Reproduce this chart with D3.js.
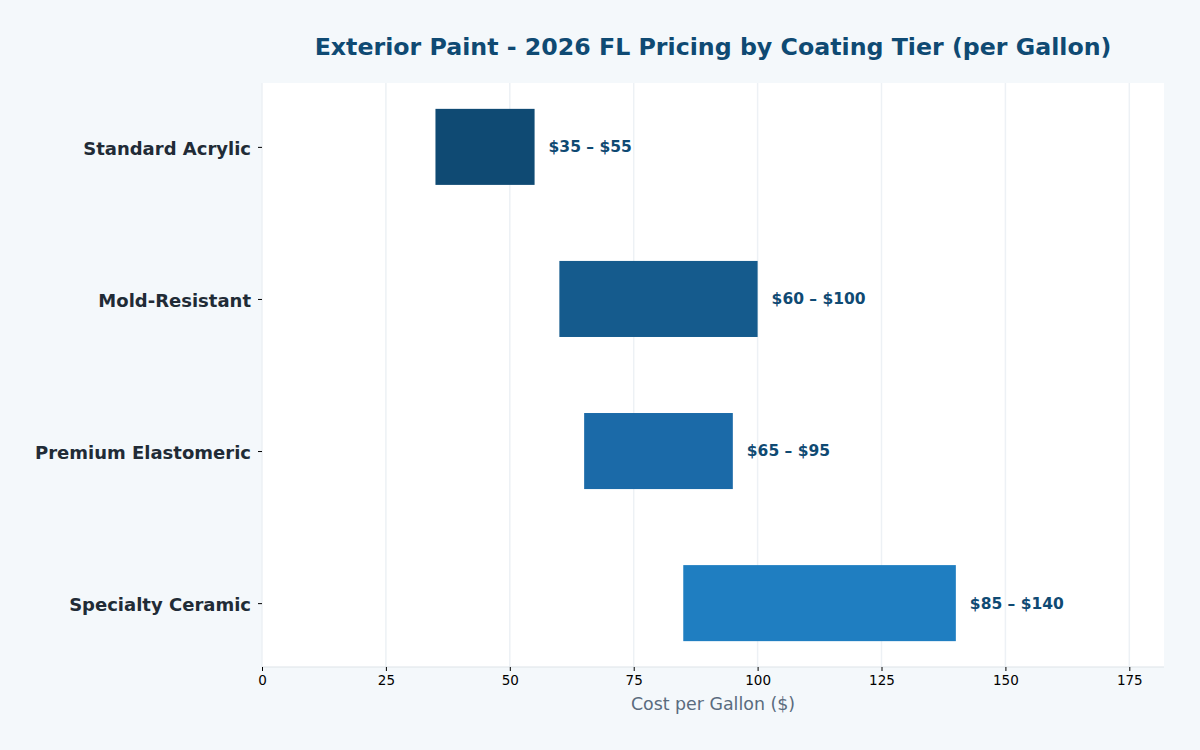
<!DOCTYPE html>
<html>
<head>
<meta charset="utf-8">
<script src="https://cdn.jsdelivr.net/npm/d3@7"></script>
<style>
  body { margin: 0; background: #f4f8fb; }
  #chart { width: 1200px; height: 750px; }
</style>
</head>
<body>
<div id="chart"></div>
<script>
// coating tiers and price ranges ($ per gallon)
const tiers = ["Standard Acrylic", "Mold-Resistant", "Premium Elastomeric", "Specialty Ceramic"];
const lowPrices = [35, 60, 65, 85];
const highPrices = [55, 100, 95, 140];
const barColors = ["#0f4a73", "#155b8d", "#1b6aa8", "#1f7ec1"];
const xTicks = [0, 25, 50, 75, 100, 125, 150, 175];

const W = 1200, H = 750;
const margin = {top: 83, right: 36, bottom: 83, left: 262};
const width = W - margin.left - margin.right;
const height = H - margin.top - margin.bottom;
const font = "'DejaVu Sans', sans-serif";

const svg = d3.select("#chart").append("svg")
    .attr("width", W)
    .attr("height", H)
    .style("font-family", font);

svg.append("rect").attr("width", W).attr("height", H).attr("fill", "#f4f8fb");

const g = svg.append("g").attr("transform", `translate(${margin.left},${margin.top})`);

g.append("rect").attr("width", width).attr("height", height).attr("fill", "#ffffff");

var x = d3.scaleLinear()
    .domain([0, d3.max(highPrices) * 1.3])
    .range([0, width]);

// index scale, padded like matplotlib's default ylim
var y = d3.scaleLinear()
    .domain([-0.42, tiers.length - 1 + 0.42])
    .range([0, height]);
const barH = y(0.5) - y(0);

// vertical grid
g.selectAll("line.grid")
    .data(xTicks)
    .enter().append("line")
    .attr("x1", d => x(d)).attr("x2", d => x(d))
    .attr("y1", 0).attr("y2", height)
    .attr("stroke", "#edf1f5")
    .attr("stroke-width", 1.5);

// bottom spine
g.append("line")
    .attr("x1", 0).attr("x2", width)
    .attr("y1", height).attr("y2", height)
    .attr("stroke", "#dde3e8");

// x axis
const xAxis = g.append("g")
    .attr("transform", `translate(0,${height})`)
    .call(d3.axisBottom(x).tickValues(xTicks).tickSize(4).tickPadding(4).tickFormat(d3.format("d")));
xAxis.select(".domain").remove();
xAxis.selectAll("text").attr("font-size", 13.5).attr("fill", "#000").style("font-family", font);
xAxis.selectAll("line").attr("stroke", "#000");

// y axis
const yAxis = g.append("g")
    .call(d3.axisLeft(y).tickValues(d3.range(tiers.length)).tickSize(4).tickPadding(7).tickFormat(i => tiers[i]));
yAxis.select(".domain").remove();
yAxis.selectAll("text")
    .attr("font-size", 18)
    .attr("font-weight", "bold")
    .attr("fill", "#212b36")
    .attr("dy", "0.4em")
    .style("font-family", font);
yAxis.selectAll("line").attr("stroke", "#000");

// bars
g.selectAll("rect.bar")
    .data(tiers)
    .enter().append("rect")
    .attr("class", "bar")
    .attr("x", (d, i) => x(lowPrices[i]))
    .attr("y", (d, i) => y(i) - barH / 2)
    .attr("width", (d, i) => x(highPrices[i]) - x(lowPrices[i]))
    .attr("height", barH)
    .attr("fill", (d, i) => barColors[i]);

// range labels
g.selectAll("text.range")
    .data(tiers)
    .enter().append("text")
    .attr("class", "range")
    .attr("x", (d, i) => x(highPrices[i]) + 14)
    .attr("y", (d, i) => y(i))
    .attr("dy", "0.35em")
    .attr("font-size", 15.5)
    .attr("font-weight", "bold")
    .attr("fill", "#0f4a73")
    .text((d, i) => `$${lowPrices[i]} – $${highPrices[i]}`);

// title
svg.append("text")
    .attr("x", margin.left + width / 2)
    .attr("y", 55)
    .attr("text-anchor", "middle")
    .attr("font-size", 23.7)
    .attr("font-weight", "bold")
    .attr("fill", "#0f4a73")
    .text("Exterior Paint - 2026 FL Pricing by Coating Tier (per Gallon)");

// x label
svg.append("text")
    .attr("x", margin.left + width / 2)
    .attr("y", 710)
    .attr("text-anchor", "middle")
    .attr("font-size", 17.4)
    .attr("fill", "#5a6b7e")
    .text("Cost per Gallon ($)");
</script>
</body>
</html>
